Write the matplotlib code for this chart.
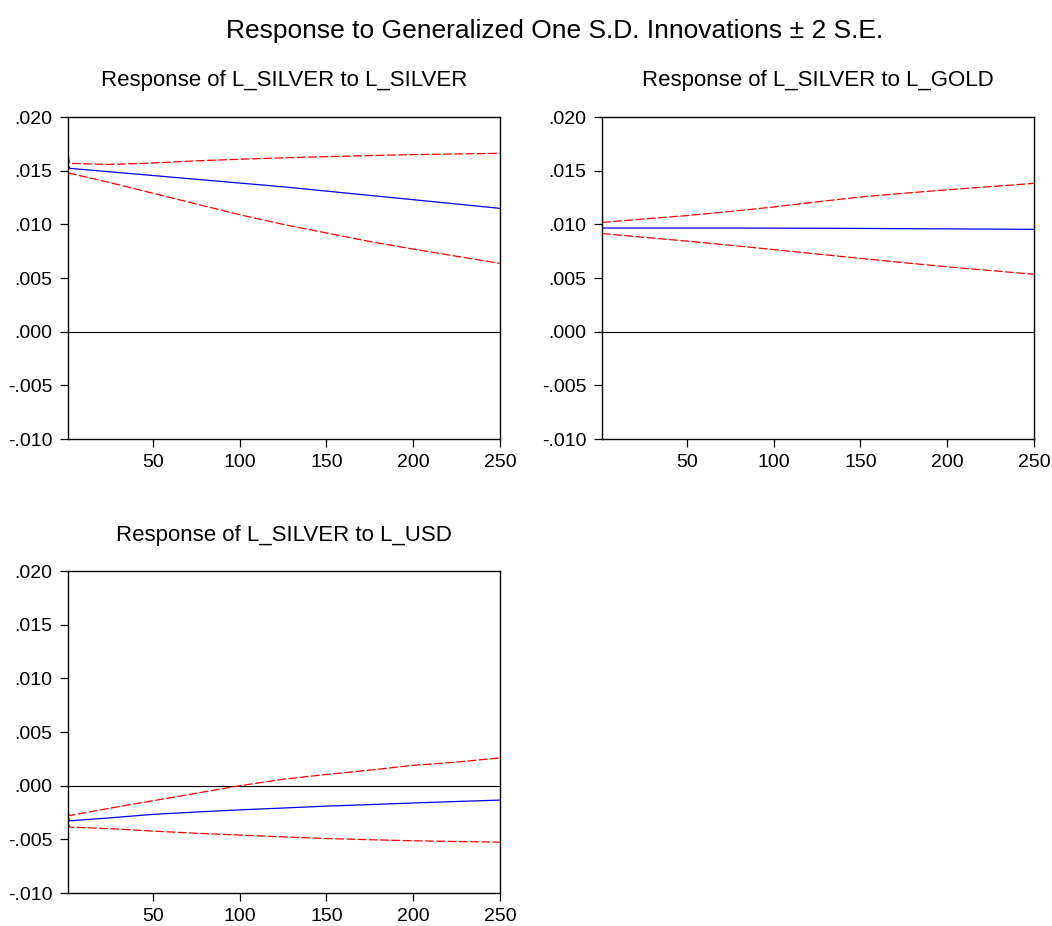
import numpy as np
import matplotlib.pyplot as plt
from matplotlib.ticker import FuncFormatter

plt.rcParams['font.family'] = ['Liberation Sans', 'DejaVu Sans']

periods = [1, 2, 25, 50, 75, 100, 125, 150, 175, 200, 225, 250]

# Response of L_SILVER to L_SILVER
silver_resp = [0.0156, 0.01522, 0.0149, 0.01455, 0.0142, 0.01385, 0.0135, 0.0131, 0.0127, 0.0123, 0.0119, 0.01149]
silver_up = [0.0165, 0.01569, 0.01558, 0.01572, 0.01592, 0.01607, 0.0162, 0.01631, 0.01641, 0.0165, 0.01656, 0.01662]
silver_lo = [0.0147, 0.01476, 0.0139, 0.0129, 0.0119, 0.0109, 0.0100, 0.0092, 0.0084, 0.0077, 0.00703, 0.00637]

# Response of L_SILVER to L_GOLD
gold_resp = [0.0097, 0.00966, 0.00966, 0.00966, 0.00966, 0.00965, 0.00964, 0.00962, 0.0096, 0.00958, 0.00956, 0.00954]
gold_up = [0.0102, 0.01019, 0.0105, 0.01082, 0.0112, 0.01162, 0.0121, 0.01255, 0.0129, 0.01322, 0.01352, 0.01382]
gold_lo = [0.0091, 0.00913, 0.0088, 0.00844, 0.00805, 0.00765, 0.00724, 0.00683, 0.00643, 0.00605, 0.0057, 0.00535]

# Response of L_SILVER to L_USD
usd_resp = [-0.0029, -0.00327, -0.0030, -0.00267, -0.00245, -0.00225, -0.00208, -0.0019, -0.00176, -0.00161, -0.00147, -0.00134]
usd_up = [-0.00255, -0.00278, -0.0021, -0.0014, -0.0007, 0.0, 0.0006, 0.00105, 0.00145, 0.0019, 0.0022, 0.00259]
usd_lo = [-0.0035, -0.00386, -0.0040, -0.00423, -0.00443, -0.0046, -0.00477, -0.00492, -0.00503, -0.00513, -0.0052, -0.00526]

yticks = [-0.010, -0.005, 0.0, 0.005, 0.010, 0.015, 0.020]
xticks = [50, 100, 150, 200, 250]


def fmt(v, pos):
    s = f"{v:.3f}"
    return s.replace("0.", ".", 1)


fig = plt.figure(figsize=(10.52, 9.26), dpi=100)

W = 0.4106
H = 0.3477
panels = [
    ([0.0646, 0.5259, W, H], "Response of L_SILVER to L_SILVER", silver_resp, silver_up, silver_lo),
    ([0.5722, 0.5259, W, H], "Response of L_SILVER to L_GOLD", gold_resp, gold_up, gold_lo),
    ([0.0646, 0.0356, W, H], "Response of L_SILVER to L_USD", usd_resp, usd_up, usd_lo),
]

for rect, title, resp, up, lo in panels:
    ax = fig.add_axes(rect)
    ax.axhline(0, color='black', lw=0.8)
    ax.plot(periods, up, color='#ff0000', lw=0.9, linestyle=(0, (7, 2)))
    ax.plot(periods, lo, color='#ff0000', lw=0.9, linestyle=(0, (7, 2)))
    ax.plot(periods, resp, color='#0000ff', lw=0.9)
    ax.set_xlim(1, 250)
    ax.set_ylim(-0.010, 0.020)
    ax.set_xticks(xticks)
    ax.set_yticks(yticks)
    ax.yaxis.set_major_formatter(FuncFormatter(fmt))
    ax.tick_params(direction='out', length=6, width=0.9, labelsize=14, pad=5)
    for sp in ax.spines.values():
        sp.set_linewidth(1.0)
    ax.set_title(title, fontsize=16, pad=22)

fig.text(0.527, 0.966, "Response to Generalized One S.D. Innovations \u00b1 2 S.E.",
         ha='center', va='center', fontsize=19)

fig.savefig("out.png", dpi=100)
